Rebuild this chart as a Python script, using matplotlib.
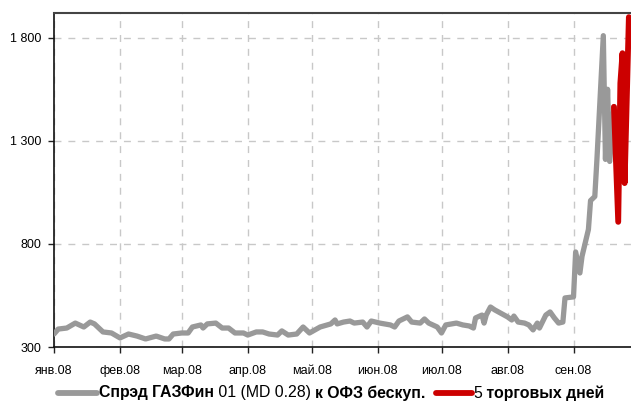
import numpy as np
import pandas as pd
import matplotlib
matplotlib.use("Agg")
import matplotlib.pyplot as plt
import matplotlib.dates as mdates
from matplotlib.lines import Line2D

FONT = ['Liberation Sans', 'DejaVu Sans']
plt.rcParams['font.family'] = FONT

# Data -------------------------------------------------
spread_dates = [
    '2008-01-01', '2008-01-03', '2008-01-07', '2008-01-11', '2008-01-15', '2008-01-18',
    '2008-01-20', '2008-01-24', '2008-01-28', '2008-02-01', '2008-02-05', '2008-02-09',
    '2008-02-13', '2008-02-18', '2008-02-22', '2008-02-24', '2008-02-26', '2008-03-01',
    '2008-03-04', '2008-03-06', '2008-03-10', '2008-03-11', '2008-03-13', '2008-03-17',
    '2008-03-20', '2008-03-23', '2008-03-26', '2008-03-30', '2008-04-01', '2008-04-05',
    '2008-04-08', '2008-04-11', '2008-04-15', '2008-04-17', '2008-04-20', '2008-04-24',
    '2008-04-27', '2008-04-30', '2008-05-05', '2008-05-10', '2008-05-12', '2008-05-13',
    '2008-05-16', '2008-05-19', '2008-05-21', '2008-05-25', '2008-05-27', '2008-05-29',
    '2008-06-02', '2008-06-07', '2008-06-09', '2008-06-11', '2008-06-15', '2008-06-17',
    '2008-06-21', '2008-06-23', '2008-06-25', '2008-06-29', '2008-07-01', '2008-07-03',
    '2008-07-08', '2008-07-11', '2008-07-14', '2008-07-16', '2008-07-17', '2008-07-20',
    '2008-07-21', '2008-07-22', '2008-07-24', '2008-07-26', '2008-08-01', '2008-08-03',
    '2008-08-04', '2008-08-06', '2008-08-09', '2008-08-11', '2008-08-13', '2008-08-15',
    '2008-08-16', '2008-08-19', '2008-08-21', '2008-08-23', '2008-08-25', '2008-08-27',
    '2008-08-28', '2008-09-01', '2008-09-02', '2008-09-04', '2008-09-05', '2008-09-08',
    '2008-09-09', '2008-09-11', '2008-09-12', '2008-09-15', '2008-09-16', '2008-09-17',
    '2008-09-18', '2008-09-20',
]
spread_values = [
    363, 387, 392, 416, 397, 421,
    412, 373, 368, 344, 363, 353,
    339, 353, 339, 339, 363, 368,
    368, 397, 407, 392, 412, 416,
    392, 392, 368, 368, 358, 373,
    373, 363, 358, 378, 358, 363,
    397, 368, 397, 412, 431, 412,
    421, 426, 416, 421, 397, 426,
    416, 407, 397, 426, 446, 421,
    416, 436, 416, 397, 368, 407,
    416, 407, 402, 392, 441, 455,
    416, 455, 494, 480, 446, 431,
    450, 421, 416, 407, 383, 416,
    392, 455, 470, 441, 416, 421,
    538, 543, 761, 659, 740, 870,
    1010, 1030, 1210, 1810, 1210, 1550,
    1200, 1465,
]
last5_dates = ['2008-09-20', '2008-09-22', '2008-09-23', '2008-09-24', '2008-09-25', '2008-09-27']
last5_values = [1465, 907, 1580, 1725, 1095, 1900]

month_labels = ['янв.08', 'фев.08', 'мар.08', 'апр.08', 'май.08',
                'июн.08', 'июл.08', 'авг.08', 'сен.08']
y_ticks = [300, 800, 1300, 1800]
y_labels = ['300', '800', '1 300', '1 800']

# Plot -------------------------------------------------
fig = plt.figure(figsize=(6.31, 4.03), dpi=100)
ax = fig.add_axes([54 / 631, 1 - 347 / 403, 1 - 54 / 631, (347 - 13) / 403])

ax.plot(pd.to_datetime(spread_dates), spread_values, color='#999999', lw=3.8,
        solid_joinstyle='round', solid_capstyle='round', zorder=3)
ax.plot(pd.to_datetime(last5_dates), last5_values, color='#cc0000', lw=4.2,
        solid_joinstyle='round', solid_capstyle='round', zorder=4)

ax.set_ylim(300, 1920)
ax.set_xlim(pd.Timestamp('2008-01-01'), pd.Timestamp('2008-09-28'))

month_starts = pd.date_range('2008-01-01', periods=9, freq='MS')
ax.set_xticks(month_starts)
ax.set_xticklabels(month_labels, fontsize=9, family=FONT)
ax.set_yticks(y_ticks)
ax.set_yticklabels(y_labels, fontsize=9, family=FONT)
ax.tick_params(axis='both', direction='out', length=4, width=1, color='#222222', pad=5)
ax.tick_params(axis='x', pad=9)

ax.grid(True, color='#c8c8c8', linestyle=(0, (5, 5)), linewidth=1)
ax.set_axisbelow(True)

for side in ['left', 'bottom']:
    ax.spines[side].set_color('#111111')
    ax.spines[side].set_linewidth(1.2)
ax.spines['top'].set_color('#444444')
ax.spines['top'].set_linewidth(1.5)
ax.spines['right'].set_visible(False)

# Legend with mixed bold text -------------------------------------------------
fig.canvas.draw()
renderer = fig.canvas.get_renderer()
y_leg = 1 - 393 / 403
grey_pieces = [('Спрэд ГАЗФин', 'bold'), (' 01 (MD 0.28) ', 'normal'), ('к ОФЗ бескуп.', 'bold')]
red_pieces = [('5', 'normal'), (' торговых дней', 'bold')]


def text_width(pieces, size):
    total = 0
    for txt, weight in pieces:
        t = fig.text(0, 0, txt, fontsize=size, fontweight=weight, family=FONT)
        total += t.get_window_extent(renderer=renderer).width
        t.remove()
    return total


def draw_pieces(x_px, pieces, size):
    for txt, weight in pieces:
        t = fig.text(x_px / 631, y_leg, txt, fontsize=size, fontweight=weight,
                     family=FONT, va='center', ha='left')
        x_px += t.get_window_extent(renderer=renderer).width
    return x_px


# one size for both entries, chosen so the first entry spans about 328 px
leg_size = 11 * 328 / text_width(grey_pieces, 11)

fig.add_artist(Line2D([58 / 631, 97 / 631], [y_leg, y_leg], color='#999999', lw=4.2,
                      solid_capstyle='round', transform=fig.transFigure))
end = draw_pieces(99, grey_pieces, leg_size)
fig.add_artist(Line2D([(end + 10) / 631, (end + 46) / 631], [y_leg, y_leg], color='#cc0000',
                      lw=4.2, solid_capstyle='round', transform=fig.transFigure))
draw_pieces(end + 48, red_pieces, leg_size)

fig.savefig('out.png', dpi=100)
